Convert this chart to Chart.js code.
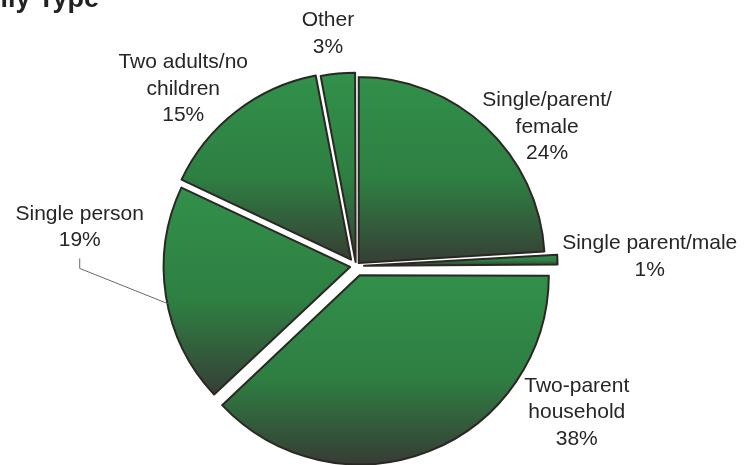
<!DOCTYPE html>
<html>
<head>
<meta charset="utf-8">
<title>Family Type</title>
<script src="https://cdn.jsdelivr.net/npm/chart.js@4.4.1/dist/chart.umd.min.js"></script>
<style>
    html, body { margin: 0; padding: 0; background: #fff; overflow: hidden; }
</style>
</head>
<body>
<canvas id="pieChart" width="747" height="465"></canvas>
<script>
const chartTitle = 'Family Type';
const categories = [
    ['Single/parent/', 'female'],
    'Single parent/male',
    ['Two-parent', 'household'],
    'Single person',
    ['Two adults/no', 'children'],
    'Other'
];
const shares = [24, 1, 38, 19, 15, 3];

// styling, kept apart from the data
const PIE_RADIUS = 186;
const sliceOffsets = [4, 8, 10, 6, 8, 4];             // px each slice is pulled out
const labelAngles = [54, 88.2, 123.6, 278, 315.7, 353.1]; // deg clockwise from 12 o'clock
const labelDistances = [1.27, 1.58, 1.425, 1.50, 1.33, 1.257]; // x radius
const leaderLines = [false, false, false, true, false, false];

// green on top fading to dark at the bottom of every slice
function sliceFill(context) {
    const chart = context.chart;
    const area = chart.chartArea;
    if (!area) return '#2e6b3c';
    const total = shares.reduce((a, b) => a + b, 0);
    const i = context.dataIndex;
    const before = shares.slice(0, i).reduce((a, b) => a + b, 0);
    const a0 = before / total * Math.PI * 2;
    const a1 = (before + shares[i]) / total * Math.PI * 2;
    const cy = (area.top + area.bottom) / 2;
    let top = cy, bottom = cy;
    for (let k = 0; k <= 30; k++) {
        const y = cy - Math.cos(a0 + (a1 - a0) * k / 30) * PIE_RADIUS;
        top = Math.min(top, y);
        bottom = Math.max(bottom, y);
    }
    const g = chart.ctx.createLinearGradient(0, top, 0, bottom);
    g.addColorStop(0, '#31904a');
    g.addColorStop(0.55, '#2e7f42');
    g.addColorStop(1, '#363f35');
    return g;
}

const sliceLabels = {
    id: 'sliceLabels',
    afterDatasetsDraw(chart) {
        const ctx = chart.ctx;
        const meta = chart.getDatasetMeta(0);
        const lh = 26.5;
        ctx.save();
        ctx.font = '21px "Liberation Sans", Arial, sans-serif';
        ctx.fillStyle = '#262626';
        ctx.textAlign = 'center';
        ctx.textBaseline = 'middle';
        meta.data.forEach((arc, i) => {
            const p = arc.getProps(['x', 'y', 'outerRadius', 'startAngle', 'endAngle'], true);
            const a = labelAngles[i] * Math.PI / 180;
            const d = p.outerRadius * labelDistances[i];
            const lx = p.x + Math.sin(a) * d;
            const ly = p.y - Math.cos(a) * d;
            const lines = [].concat(categories[i], shares[i] + '%');
            const top = ly - (lines.length - 1) * lh / 2;
            lines.forEach((t, k) => ctx.fillText(t, lx, top + k * lh));

            if (leaderLines[i]) {
                const mid = (p.startAngle + p.endAngle) / 2 - 0.04;
                const r = p.outerRadius + sliceOffsets[i];
                const ex = p.x + Math.cos(mid) * r;
                const ey = p.y + Math.sin(mid) * r;
                const sy = top + (lines.length - 1) * lh + 18;
                ctx.beginPath();
                ctx.moveTo(lx, sy);
                ctx.lineTo(lx, sy + 10);
                ctx.lineTo(ex, ey);
                ctx.strokeStyle = '#6a6a6a';
                ctx.lineWidth = 1;
                ctx.stroke();
            }
        });

        // title sits partly off the page, as in the scan
        ctx.font = 'bold 27px "Liberation Sans", Arial, sans-serif';
        ctx.textAlign = 'left';
        ctx.textBaseline = 'alphabetic';
        ctx.fillStyle = '#222';
        ctx.fillText(chartTitle, -55, 7);
        ctx.restore();
    }
};

const ctx = document.getElementById('pieChart').getContext('2d');
new Chart(ctx, {
    type: 'pie',
    data: {
        labels: categories,
        datasets: [{
            data: shares,
            backgroundColor: sliceFill,
            borderColor: '#2b2724',
            borderWidth: 2,
            borderJoinStyle: 'round',
            // Chart.js v4 moves an arc by offset / 4
            offset: sliceOffsets.map(o => o * 4),
            hoverOffset: 0
        }]
    },
    options: {
        responsive: false,
        animation: false,
        radius: PIE_RADIUS,
        layout: {
            padding: { left: 0, right: 35, top: 67, bottom: 0 }
        },
        plugins: {
            legend: { display: false },
            tooltip: { enabled: false }
        }
    },
    plugins: [sliceLabels]
});
</script>
</body>
</html>
